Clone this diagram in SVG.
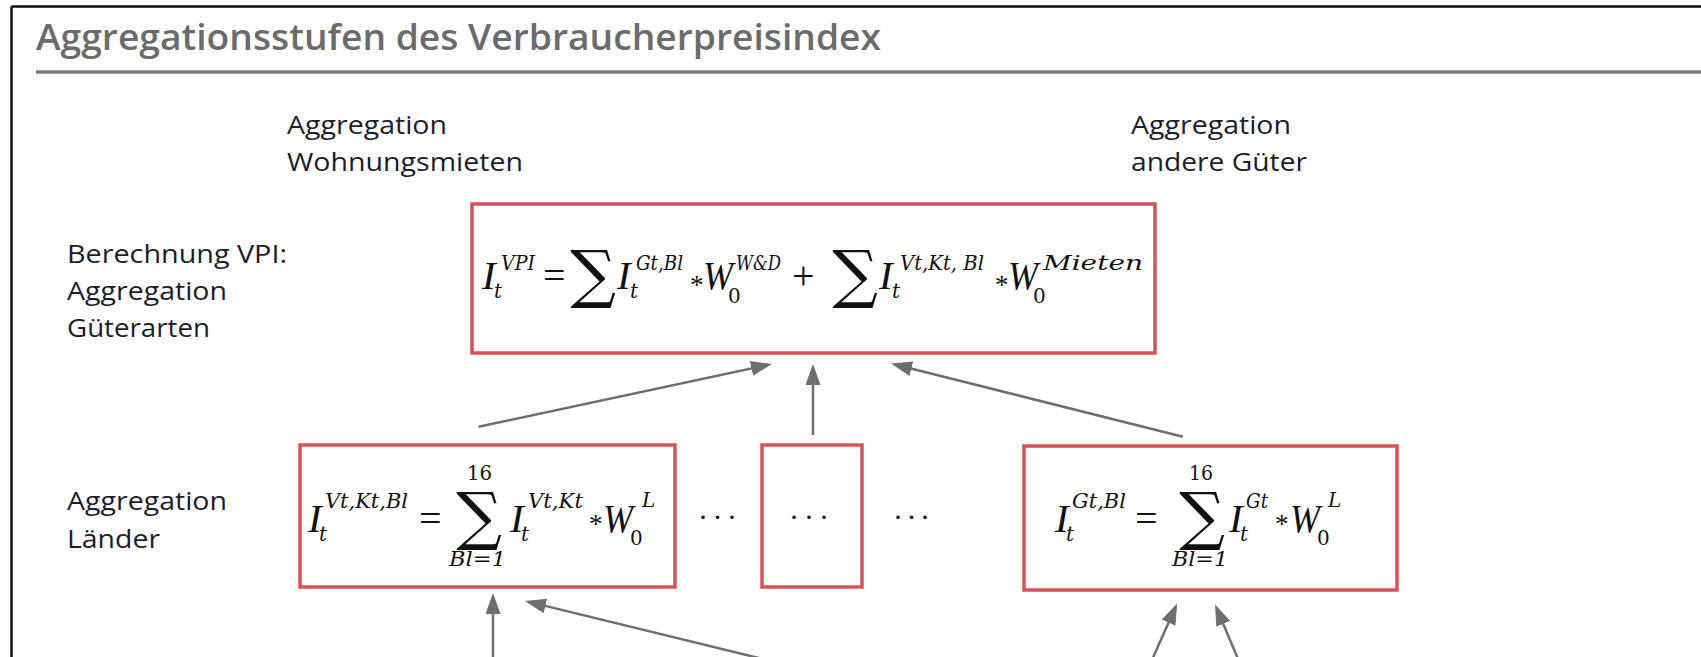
<svg xmlns="http://www.w3.org/2000/svg" width="1701" height="657" viewBox="0 0 1701 657">
  <style>
    .frame { stroke: #111; stroke-width: 2.5; fill: none; }
    .rule { stroke: #7a7a7a; stroke-width: 3.5; }
    .title { font-family: "Open Sans", "Liberation Sans", sans-serif; font-size: 36px; font-weight: 600; fill: #6b6b6b; }
    .lbl { font-family: "Open Sans", "Liberation Sans", sans-serif; font-size: 25px; font-weight: 500; fill: #1c1d2b; }
    .box { fill: none; stroke: #d4525a; stroke-width: 3.5; }
    .m { font-family: "Liberation Serif", serif; font-style: italic; font-size: 41px; fill: #111; }
    .s { font-family: "DejaVu Serif", serif; font-style: italic; font-size: 20px; fill: #111; }
    .n { font-family: "DejaVu Serif", serif; font-size: 20px; fill: #111; }
    .op { font-family: "Liberation Serif", serif; font-size: 40px; fill: #111; }
    .ast { font-family: "Liberation Serif", serif; font-size: 27px; fill: #111; }
    .sum { font-family: "DejaVu Serif", serif; font-size: 64px; fill: #111; text-anchor: middle; }
    .dots { font-family: "Liberation Serif", serif; font-size: 30px; fill: #111; }
    .conn { stroke: #6d6e70; stroke-width: 2.5; fill: none; marker-end: url(#ah); }
  </style>
  <defs>
    <marker id="ah" viewBox="0 0 21 15" refX="17" refY="7.5" markerWidth="21" markerHeight="15" markerUnits="userSpaceOnUse" orient="auto">
      <path d="M0,0 L21,7.5 L0,15 z" fill="#6d6e70"/>
    </marker>
  </defs>

  <rect width="1701" height="657" fill="#ffffff"/>
  <line class="frame" x1="11.5" y1="6.5" x2="1701" y2="6.5"/>
  <line class="frame" x1="11.5" y1="6.5" x2="11.5" y2="657"/>
  <text class="title" x="36" y="50" textLength="845" lengthAdjust="spacingAndGlyphs">Aggregationsstufen des Verbraucherpreisindex</text>
  <line class="rule" x1="36" y1="72" x2="1701" y2="72"/>

  <g id="label-wohnungsmieten">
    <text class="lbl" x="287" y="134" textLength="160" lengthAdjust="spacingAndGlyphs">Aggregation</text>
    <text class="lbl" x="287" y="171" textLength="236" lengthAdjust="spacingAndGlyphs">Wohnungsmieten</text>
  </g>
  <g id="label-andere">
    <text class="lbl" x="1131" y="134" textLength="160" lengthAdjust="spacingAndGlyphs">Aggregation</text>
    <text class="lbl" x="1131" y="171" textLength="176" lengthAdjust="spacingAndGlyphs">andere Güter</text>
  </g>
  <g id="label-vpi">
    <text class="lbl" x="67" y="263" textLength="220" lengthAdjust="spacingAndGlyphs">Berechnung VPI:</text>
    <text class="lbl" x="67" y="300" textLength="160" lengthAdjust="spacingAndGlyphs">Aggregation</text>
    <text class="lbl" x="67" y="337" textLength="143" lengthAdjust="spacingAndGlyphs">Güterarten</text>
  </g>
  <g id="label-laender">
    <text class="lbl" x="67" y="510" textLength="160" lengthAdjust="spacingAndGlyphs">Aggregation</text>
    <text class="lbl" x="67" y="548" textLength="93" lengthAdjust="spacingAndGlyphs">Länder</text>
  </g>

  <g id="node-vpi">
    <rect class="box" x="472" y="204" width="683" height="149"/>
    <text class="m" x="482" y="289">I</text>
    <text class="s" x="494" y="298">t</text>
    <text class="s" x="501" y="270" textLength="34" lengthAdjust="spacingAndGlyphs">VPI</text>
    <text class="op" x="543" y="289">=</text>
    <text class="sum" x="593" y="296">∑</text>
    <text class="m" x="617" y="289">I</text>
    <text class="s" x="630" y="298">t</text>
    <text class="s" x="636" y="270" textLength="47" lengthAdjust="spacingAndGlyphs">Gt,Bl</text>
    <text class="ast" x="690" y="294">*</text>
    <text class="m" x="703" y="289" textLength="30" lengthAdjust="spacingAndGlyphs">W</text>
    <text class="n" x="728" y="303">0</text>
    <text class="s" x="736" y="270" textLength="45" lengthAdjust="spacingAndGlyphs">W&amp;D</text>
    <text class="op" x="792" y="289">+</text>
    <text class="sum" x="855" y="296">∑</text>
    <text class="m" x="879" y="289">I</text>
    <text class="s" x="892" y="298">t</text>
    <text class="s" x="900" y="270" textLength="84" lengthAdjust="spacingAndGlyphs">Vt,Kt, Bl</text>
    <text class="ast" x="995" y="294">*</text>
    <text class="m" x="1008" y="289" textLength="30" lengthAdjust="spacingAndGlyphs">W</text>
    <text class="n" x="1033" y="303">0</text>
    <text class="s" x="1043" y="270" textLength="100" lengthAdjust="spacingAndGlyphs">Mieten</text>
  </g>

  <g id="node-mieten-laender">
    <rect class="box" x="300" y="445" width="375" height="142"/>
    <text class="m" x="308" y="532">I</text>
    <text class="s" x="319" y="541">t</text>
    <text class="s" x="325" y="508" textLength="83" lengthAdjust="spacingAndGlyphs">Vt,Kt,Bl</text>
    <text class="op" x="419" y="532">=</text>
    <text class="n" x="467" y="480" textLength="25" lengthAdjust="spacingAndGlyphs">16</text>
    <text class="sum" x="479" y="538">∑</text>
    <text class="s" x="449" y="566" textLength="57" lengthAdjust="spacingAndGlyphs">Bl=1</text>
    <text class="m" x="510" y="532">I</text>
    <text class="s" x="521" y="541">t</text>
    <text class="s" x="528" y="508" textLength="55" lengthAdjust="spacingAndGlyphs">Vt,Kt</text>
    <text class="ast" x="589" y="533">*</text>
    <text class="m" x="603" y="532" textLength="30" lengthAdjust="spacingAndGlyphs">W</text>
    <text class="n" x="630" y="545">0</text>
    <text class="s" x="642" y="507">L</text>
  </g>

  <text class="dots" x="698" y="527" textLength="39" lengthAdjust="spacing">· · ·</text>

  <g id="node-dots">
    <rect class="box" x="762" y="445" width="100" height="142"/>
    <text class="dots" x="789" y="527" textLength="40" lengthAdjust="spacing">· · ·</text>
  </g>

  <text class="dots" x="893" y="527" textLength="37" lengthAdjust="spacing">· · ·</text>

  <g id="node-gueter-laender">
    <rect class="box" x="1024" y="446" width="373" height="144"/>
    <text class="m" x="1055" y="532">I</text>
    <text class="s" x="1066" y="541">t</text>
    <text class="s" x="1072" y="508" textLength="54" lengthAdjust="spacingAndGlyphs">Gt,Bl</text>
    <text class="op" x="1135" y="532">=</text>
    <text class="n" x="1189" y="480" textLength="24" lengthAdjust="spacingAndGlyphs">16</text>
    <text class="sum" x="1202" y="538">∑</text>
    <text class="s" x="1172" y="566" textLength="56" lengthAdjust="spacingAndGlyphs">Bl=1</text>
    <text class="m" x="1229" y="532">I</text>
    <text class="s" x="1240" y="541">t</text>
    <text class="s" x="1246" y="508" textLength="22" lengthAdjust="spacingAndGlyphs">Gt</text>
    <text class="ast" x="1275" y="533">*</text>
    <text class="m" x="1290" y="532" textLength="30" lengthAdjust="spacingAndGlyphs">W</text>
    <text class="n" x="1317" y="545">0</text>
    <text class="s" x="1328" y="507">L</text>
  </g>

  <g id="connectors">
    <line class="conn" x1="478.6" y1="426.7" x2="768.1" y2="364.8"/>
    <line class="conn" x1="813" y1="435" x2="813" y2="368"/>
    <line class="conn" x1="1183" y1="436.7" x2="894.9" y2="364.5"/>
    <line class="conn" x1="493" y1="660" x2="493" y2="597"/>
    <line class="conn" x1="767" y1="660" x2="528.9" y2="601.9"/>
    <line class="conn" x1="1152" y1="660" x2="1175.5" y2="607.1"/>
    <line class="conn" x1="1238.5" y1="660" x2="1216.6" y2="608.2"/>
  </g>
</svg>
